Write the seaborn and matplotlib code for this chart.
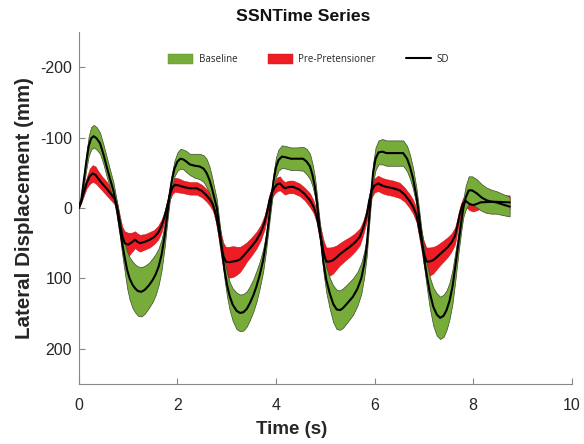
import numpy as np
import pandas as pd
import seaborn as sns
import matplotlib.pyplot as plt
from matplotlib.patches import Patch
from matplotlib.lines import Line2D

# Baseline: tempo (s), media e desvio padrao (mm)
base_t = [0.00, 0.05, 0.10, 0.15, 0.20, 0.25, 0.30, 0.36, 0.43, 0.50, 0.56, 0.63, 0.70, 0.76,
          0.83, 0.88, 0.93, 0.98, 1.03, 1.09, 1.14, 1.20, 1.27, 1.34, 1.42, 1.50, 1.56, 1.62,
          1.68, 1.74, 1.79, 1.84, 1.89, 1.94, 2.00, 2.06, 2.12, 2.18, 2.25, 2.35, 2.45, 2.53,
          2.59, 2.65, 2.70, 2.75, 2.80, 2.85, 2.90, 2.96, 3.01, 3.06, 3.12, 3.20, 3.27, 3.34,
          3.41, 3.47, 3.54, 3.60, 3.67, 3.74, 3.80, 3.85, 3.90, 3.95, 4.00, 4.05, 4.12, 4.20,
          4.30, 4.42, 4.55, 4.62, 4.69, 4.74, 4.79, 4.83, 4.87, 4.92, 4.96, 5.02, 5.09, 5.16,
          5.23, 5.30, 5.36, 5.45, 5.56, 5.65, 5.73, 5.79, 5.84, 5.88, 5.92, 5.97, 6.02, 6.08,
          6.16, 6.24, 6.40, 6.58, 6.66, 6.72, 6.78, 6.85, 6.90, 6.95, 7.02, 7.07, 7.12, 7.19,
          7.26, 7.33, 7.40, 7.46, 7.52, 7.58, 7.64, 7.70, 7.76, 7.80, 7.85, 7.91, 7.98, 8.07,
          8.17, 8.27, 8.37, 8.47, 8.60, 8.74]
base_mean = [0, -12, -38, -65, -88, -99, -102, -99, -92, -76, -60, -42, -25, -4,
             27, 50, 70, 88, 100, 109, 114, 118, 119, 116, 110, 102, 94, 83,
             66, 40, 12, -18, -40, -56, -66, -70, -69, -66, -62, -60, -59, -56,
             -50, -40, -28, -14, 0, 28, 58, 90, 110, 125, 137, 146, 149, 148,
             143, 135, 124, 112, 95, 74, 48, 20, -10, -38, -58, -68, -73, -72,
             -70, -70, -70, -66, -59, -47, -30, -8, 18, 50, 76, 102, 121, 136,
             144, 145, 142, 135, 126, 115, 100, 80, 55, 22, -12, -50, -70, -79,
             -80, -78, -78, -78, -70, -58, -42, -16, 10, 40, 78, 100, 120, 140,
             151, 156, 153, 145, 132, 112, 82, 50, 20, 0, -15, -25, -25, -21,
             -15, -11, -9, -8, -5, -2]
base_sd = [0, 4, 8, 11, 14, 16, 16, 16, 15, 14, 14, 13, 12, 10,
           12, 16, 20, 26, 30, 33, 34, 35, 35, 34, 32, 31, 29, 26,
           22, 16, 11, 10, 10, 11, 13, 14, 14, 15, 15, 17, 18, 19,
           20, 19, 17, 14, 12, 10, 11, 14, 17, 20, 23, 26, 26, 26,
           25, 24, 23, 22, 19, 16, 12, 10, 10, 12, 14, 15, 16, 16,
           16, 16, 17, 18, 18, 16, 14, 11, 10, 12, 14, 18, 22, 26,
           28, 28, 28, 27, 26, 24, 22, 18, 14, 11, 10, 14, 16, 17,
           18, 18, 18, 18, 18, 17, 15, 12, 10, 11, 14, 18, 22, 27,
           30, 30, 30, 28, 26, 24, 20, 15, 12, 13, 17, 20, 20, 20,
           19, 18, 17, 16, 15, 14]

# Pre-Pretensioner
pre_t = [0.00, 0.05, 0.10, 0.16, 0.22, 0.28, 0.34, 0.39, 0.47, 0.56, 0.65, 0.73, 0.78, 0.83,
         0.88, 0.93, 1.00, 1.07, 1.14, 1.19, 1.24, 1.34, 1.44, 1.53, 1.61, 1.68, 1.74, 1.80,
         1.85, 1.90, 1.95, 2.03, 2.12, 2.25, 2.39, 2.50, 2.59, 2.66, 2.72, 2.78, 2.83, 2.88,
         2.93, 2.98, 3.05, 3.13, 3.20, 3.27, 3.34, 3.40, 3.50, 3.60, 3.69, 3.77, 3.83, 3.87,
         3.92, 3.98, 4.03, 4.08, 4.13, 4.18, 4.26, 4.35, 4.48, 4.58, 4.69, 4.76, 4.82, 4.87,
         4.92, 4.97, 5.02, 5.09, 5.16, 5.23, 5.29, 5.40, 5.50, 5.60, 5.70, 5.77, 5.84, 5.89,
         5.94, 6.00, 6.07, 6.15, 6.24, 6.38, 6.51, 6.61, 6.71, 6.78, 6.85, 6.90, 6.95, 7.00,
         7.05, 7.12, 7.19, 7.26, 7.32, 7.40, 7.49, 7.56, 7.63, 7.68, 7.73, 7.79, 7.85, 7.92,
         8.00, 8.08, 8.15, 8.40, 8.74]
pre_mean = [0, -10, -22, -36, -45, -49, -47, -42, -35, -28, -20, -13, 0, 20,
            40, 50, 52, 49, 45, 48, 50, 48, 45, 41, 35, 25, 12, -5,
            -20, -29, -33, -32, -30, -28, -28, -24, -18, -12, -5, 10, 28, 50,
            68, 76, 77, 76, 75, 73, 68, 63, 55, 46, 35, 20, 2, -12,
            -23, -30, -34, -35, -31, -28, -30, -30, -26, -20, -11, -2, 10, 28,
            46, 65, 76, 76, 74, 70, 66, 60, 55, 49, 41, 28, 10, -10,
            -25, -32, -35, -32, -30, -28, -25, -19, -10, -2, 10, 28, 46, 65,
            76, 76, 74, 70, 66, 61, 55, 49, 40, 25, 8, -6, -10, -6,
            -4, -6, -8, -9, -8]
pre_sd = [0, 3, 5, 8, 11, 12, 12, 11, 10, 10, 9, 8, 8, 10,
          14, 17, 17, 14, 12, 12, 12, 11, 11, 10, 10, 9, 8, 8,
          8, 9, 10, 10, 9, 9, 9, 9, 9, 9, 9, 10, 13, 16,
          19, 21, 22, 22, 20, 18, 16, 14, 13, 12, 11, 10, 9, 8,
          8, 9, 10, 10, 9, 9, 9, 9, 9, 9, 10, 9, 9, 11,
          14, 18, 20, 20, 19, 17, 16, 15, 14, 13, 12, 10, 9, 9,
          10, 10, 11, 11, 11, 11, 11, 10, 10, 10, 10, 12, 14, 18,
          20, 20, 19, 17, 16, 15, 14, 13, 12, 10, 9, 8, 8, 9,
          9, 9, 9, 9, 10]

green = '#77AC3A'
red = '#EE1C24'

df_base = pd.DataFrame({'t': base_t, 'm': base_mean, 's': base_sd})
df_pre = pd.DataFrame({'t': pre_t, 'm': pre_mean, 's': pre_sd})

sns.set_style('ticks')
plt.rcParams['font.family'] = ['Liberation Sans', 'DejaVu Sans']
plt.rcParams['axes.unicode_minus'] = False

fig = plt.figure(figsize=(5.84, 4.44), dpi=100)
ax = fig.add_axes([0.135, 0.135, 0.844, 0.793])

ax.fill_between(df_pre['t'], df_pre['m'] - df_pre['s'], df_pre['m'] + df_pre['s'],
                color=red, lw=0.3, edgecolor='#c01010', zorder=1)
ax.fill_between(df_base['t'], df_base['m'] - df_base['s'], df_base['m'] + df_base['s'],
                facecolor=green, edgecolor='#3d4a2a', lw=0.5, zorder=2)
sns.lineplot(data=df_pre, x='t', y='m', color='black', lw=1.5, ax=ax, zorder=3)
sns.lineplot(data=df_base, x='t', y='m', color='black', lw=1.5, ax=ax, zorder=3)

ax.set_xlim(0, 10)
ax.set_ylim(250, -250)
ax.set_xticks([0, 2, 4, 6, 8, 10])
ax.set_yticks([-200, -100, 0, 100, 200])
ax.tick_params(direction='in', length=4, width=0.8, colors='#888888',
               labelcolor='#262626', labelsize=11.5)
ax.tick_params(axis='x', pad=10)
ax.tick_params(axis='y', pad=5)
for s in ['top', 'right']:
    ax.spines[s].set_visible(False)
for s in ['left', 'bottom']:
    ax.spines[s].set_color('#888888')
    ax.spines[s].set_linewidth(0.8)

ax.set_xlabel('Time (s)', fontsize=13.5, fontweight='bold', color='#262626', labelpad=7)
ax.xaxis.set_label_coords(0.432, -0.105)
ax.set_ylabel('Lateral Displacement (mm)', fontsize=14.8, fontweight='bold', color='#262626', labelpad=4)
ax.set_title('SSNTime Series', fontsize=12.6, fontweight='bold', color='#111111', pad=8, x=0.456)

handles = [Patch(facecolor=green, edgecolor='#5a8a2a', lw=0.3),
           Patch(facecolor=red, edgecolor='#c01818', lw=0.3),
           Line2D([], [], color='black', lw=1.5)]
ax.legend(handles, ['Baseline', 'Pre-Pretensioner', 'SD'], ncol=3, loc='center',
          bbox_to_anchor=(0.466, 0.922), frameon=False,
          prop={'family': ['Open Sans', 'DejaVu Sans'], 'size': 7},
          handlelength=2.6, handleheight=1.2, columnspacing=3.1, handletextpad=0.55)

fig.savefig('out.png', dpi=100)
